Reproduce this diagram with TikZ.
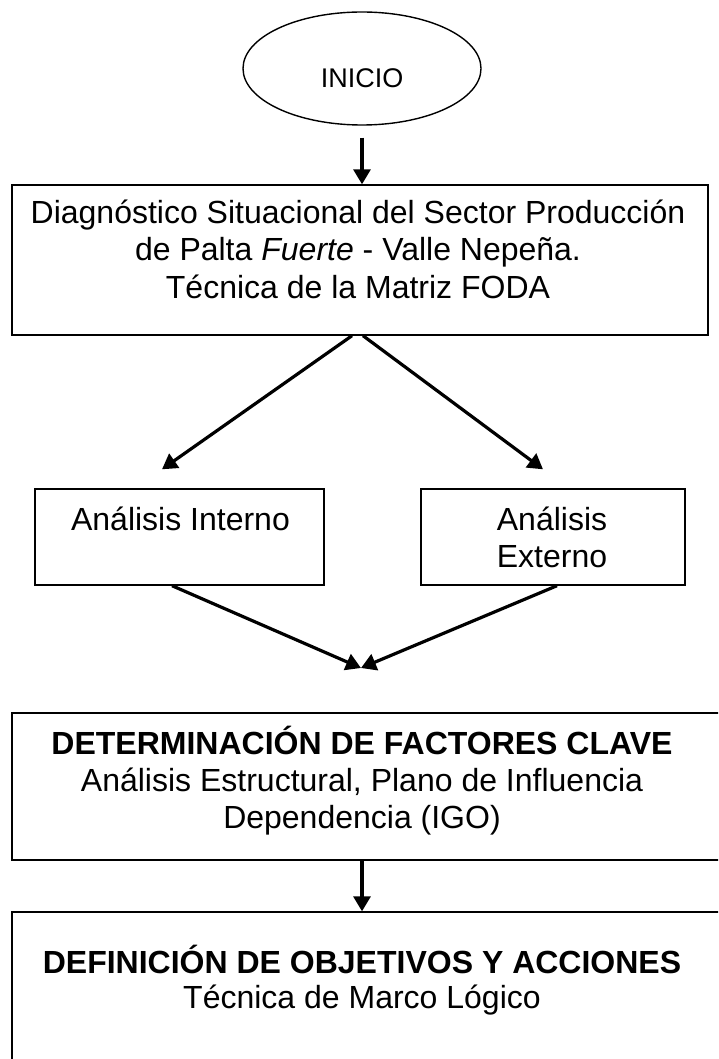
\documentclass[tikz,border=0pt]{standalone}
\usepackage{fontspec}
\setmainfont{Liberation Sans}
\usetikzlibrary{shapes.geometric,arrows.meta}
\tikzset{
  caja/.style={draw,rectangle,line width=1.4pt,inner sep=0pt},
  texto/.style={font=\fontsize{32}{37}\selectfont,align=center,inner sep=0pt,anchor=base},
  flecha/.style={line width=3.2pt,-{Triangle[length=15pt,width=17pt]}}
}
\begin{document}
\begin{tikzpicture}[x=1pt,y=-1pt]
\clip (0,0) rectangle (718,1059);
\fill[white] (0,0) rectangle (718,1059);
% inicio
\node[draw,ellipse,line width=1.4pt,minimum width=238pt,minimum height=113pt] (inicio) at (362,68.5) {};
\node[texto,font=\fontsize{27}{32}\selectfont] (iniciotxt) at (362,88) {INICIO};
% diagnostico
\node[caja,minimum width=696pt,minimum height=150pt] (diag) at (360,260) {};
\node[texto] (diagtxt) at (358,298) {Diagnóstico Situacional del Sector Producción\\de Palta \textit{Fuerte} - Valle Nepeña.\\Técnica de la Matriz FODA};
% analisis
\node[caja,minimum width=289pt,minimum height=96pt] (interno) at (179.5,537) {};
\node[texto] (internotxt) at (180.5,530) {Análisis Interno};
\node[caja,minimum width=264pt,minimum height=96pt] (externo) at (553,537) {};
\node[texto] (externotxt) at (552,567) {Análisis\\Externo};
% factores clave
\node[caja,minimum width=728pt,minimum height=147pt] (fac) at (376,786.5) {};
\node[texto] (factxt) at (362,828) {\textbf{DETERMINACIÓN DE FACTORES CLAVE}\\Análisis Estructural, Plano de Influencia\\Dependencia (IGO)};
% objetivos
\node[caja,minimum width=728pt,minimum height=188pt] (obj) at (376,1006) {};
\node[texto,font=\fontsize{32}{35}\selectfont] (objtxt) at (362,1008) {\textbf{DEFINICIÓN DE OBJETIVOS Y ACCIONES}\\Técnica de Marco Lógico};
\coordinate (junta) at (361,668);
% flechas
\draw[flecha] ([yshift=-12pt]inicio.south) -- (inicio.south |- diag.north);
\draw[flecha] ([xshift=-8pt]diag.south) -- ([xshift=-17.5pt,yshift=19pt]interno.north);
\draw[flecha] ([xshift=3pt]diag.south) -- ([xshift=-10pt,yshift=19pt]externo.north);
\draw[flecha] ([xshift=-7.5pt]interno.south) -- (junta);
\draw[flecha] ([xshift=4pt]externo.south) -- (junta);
\draw[flecha] (factxt.south |- fac.south) -- (factxt.south |- obj.north);
\end{tikzpicture}
\end{document}
